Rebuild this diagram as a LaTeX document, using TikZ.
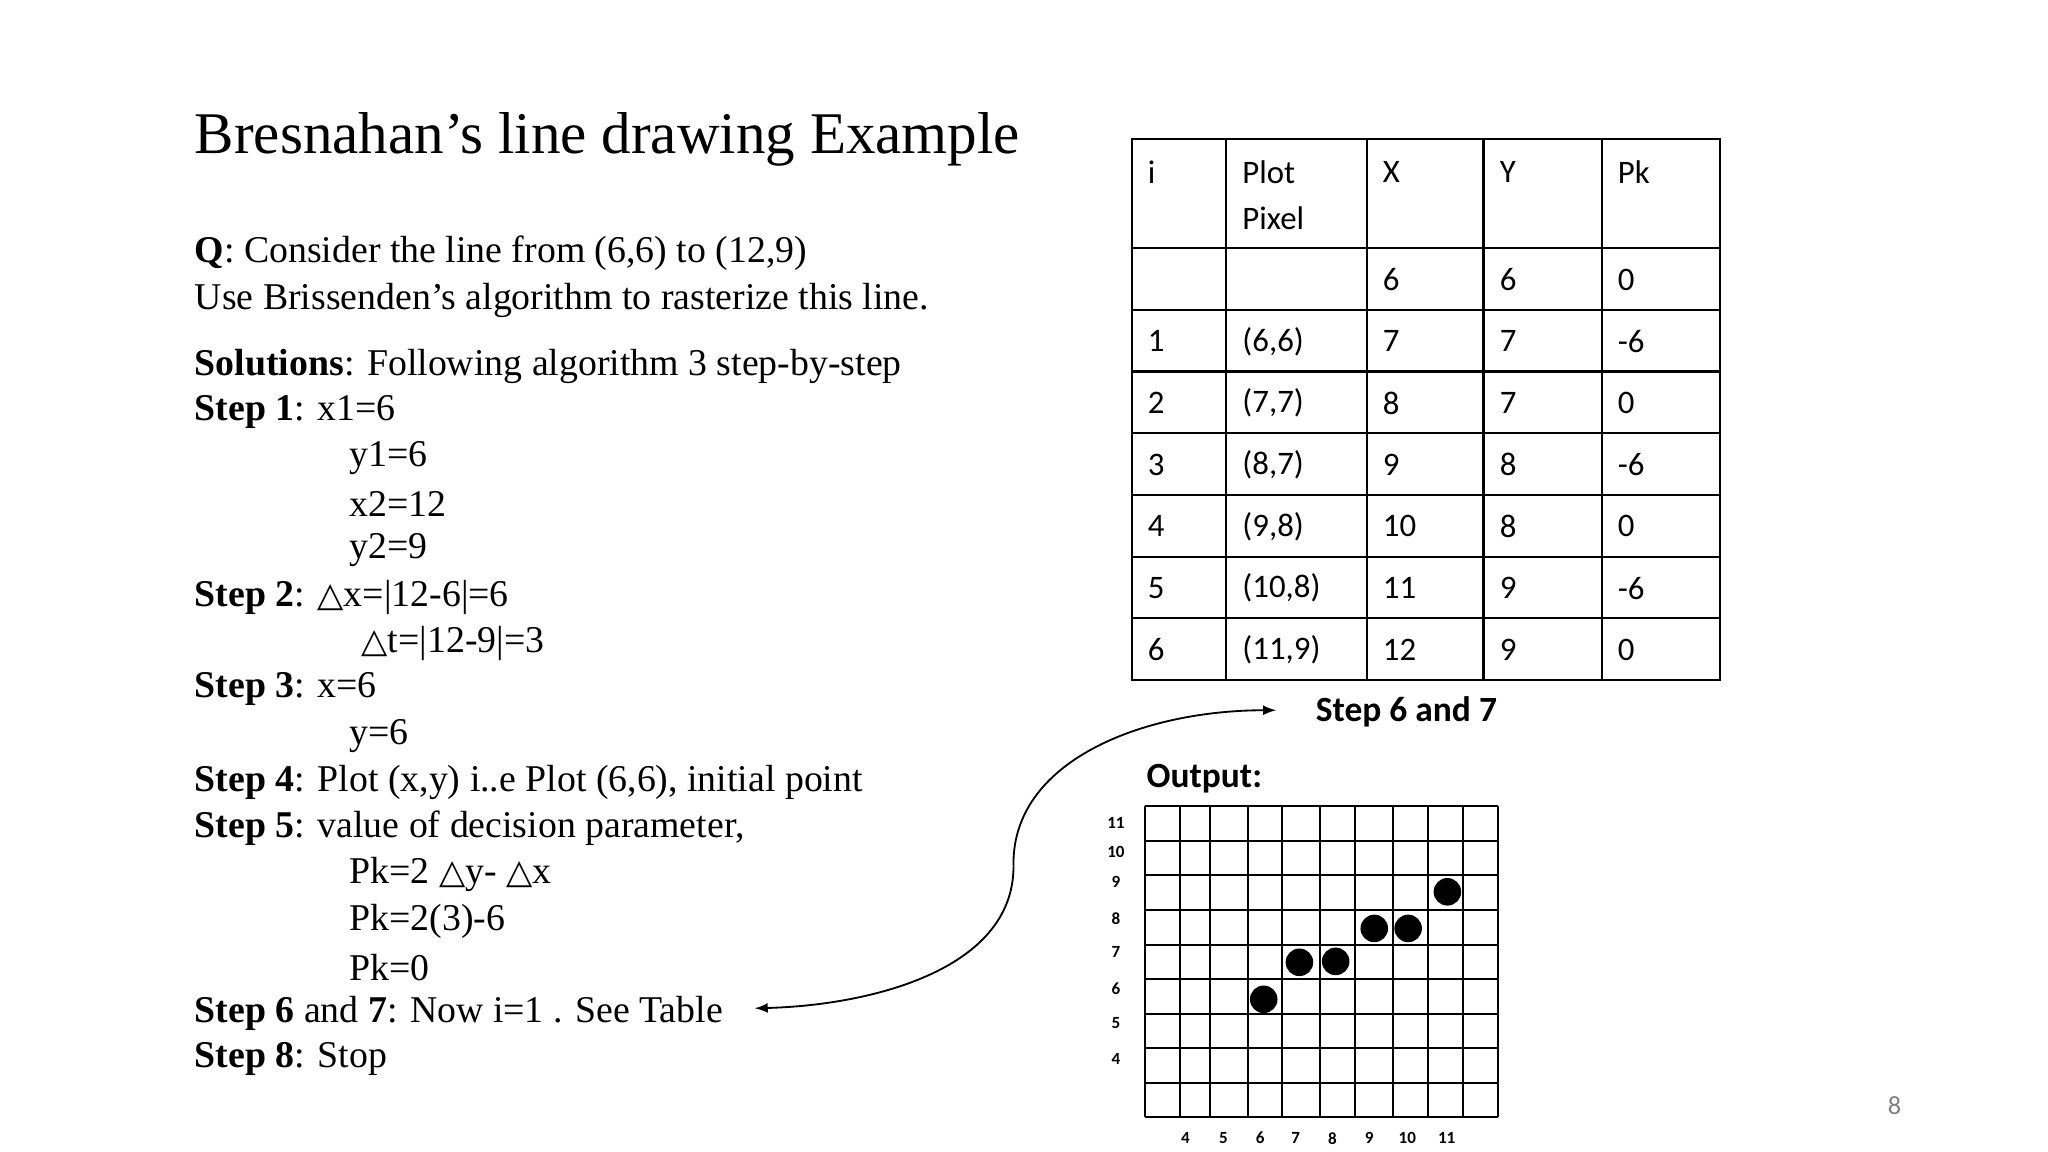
\documentclass[tikz,border=0pt]{standalone}
\usepackage{fontspec}
\setmainfont{Liberation Serif}
\newfontfamily\carl{Carlito}
\newfontfamily\djs{DejaVu Serif}
\newcommand{\tri}{{\djs\fontsize{13}{13}\selectfont △}}
\newcommand{\apos}{\char"0027\relax}
\begin{document}
\begin{tikzpicture}[x=0.5pt,y=-0.5pt,
  body/.style={anchor=west,inner sep=0,font=\fontsize{14.4}{16}\selectfont},
  cell/.style={anchor=west,inner sep=0,font=\carl\fontsize{12.5}{18}\selectfont},
  lab/.style={inner sep=0,font=\carl\bfseries\fontsize{6.5}{7}\selectfont},
  dot/.style={fill=black,circle,inner sep=0,minimum size=10.5pt}]
\useasboundingbox (0,0) rectangle (1560,877.5);
\node[anchor=west,inner sep=0,font=\fontsize{22.5}{24}\selectfont] (title) at (148,106) {Bresnahan\apos s line drawing Example};
\node[body] (q) at (148,193) {\textbf{Q}: Consider the line from (6,6) to (12,9)};
\node[body] (u) at (148,229) {Use Brissenden\apos s algorithm to rasterize this line.};
\node[body] (s) at (148,279) {\textbf{Solutions}: Following algorithm 3 step-by-step};
\node[body] (s1) at (148,314) {\textbf{Step 1}: x1=6};
\node[body] (a1) at (266,349) {y1=6};
\node[body] (a2) at (266,384) {x2=12};
\node[body] (a3) at (266,419) {y2=9};
\node[body] (s2) at (148,455) {\textbf{Step 2}: \tri x=|12-6|=6};
\node[body] (a4) at (275,490) {\tri t=|12-9|=3};
\node[body] (s3) at (148,525) {\textbf{Step 3}: x=6};
\node[body] (a5) at (266,561) {y=6};
\node[body] (s4) at (148,596) {\textbf{Step 4}: Plot (x,y) i..e Plot (6,6), initial point};
\node[body] (s5) at (148,631) {\textbf{Step 5}: value of decision parameter,};
\node[body] (a6) at (266,666) {Pk=2 \tri y- \tri x};
\node[body] (a7) at (266,702) {Pk=2(3)-6};
\node[body] (a8) at (266,737) {Pk=0};
\node[body] (s6) at (148,772) {\textbf{Step 6} and \textbf{7}: Now i=1 . See Table};
\node[body] (s8) at (148,807) {\textbf{Step 8}: Stop};
% table
\draw[line width=0.8pt] (862,106) rectangle (1310,518);
\foreach \x in {934,1041,1130,1220} \draw[line width=0.8pt] (\x,106) -- (\x,518);
\foreach \y in {189,236,283,330,377,424,471} \draw[line width=0.8pt] (862,\y) -- (1310,\y);
\node[cell] (h1) at (874,131) {i};
\node[cell] (h2) at (946,131) {Plot};
\node[cell] (h2b) at (946,166) {Pixel};
\node[cell] (h3) at (1053,131) {X};
\node[cell] (h4) at (1142,131) {Y};
\node[cell] (h5) at (1232,131) {Pk};
\node[cell] at (1053,213) {6};
\node[cell] at (1142,213) {6};
\node[cell] at (1232,213) {0};
\foreach \i/\p/\xx/\yy/\pk [count=\r] in {1/{(6,6)}/7/7/-6,2/{(7,7)}/8/7/0,3/{(8,7)}/9/8/-6,4/{(9,8)}/10/8/0,5/{(10,8)}/11/9/-6,6/{(11,9)}/12/9/0}{
  \pgfmathsetmacro{\yc}{213+47*\r}
  \node[cell] at (874,\yc) {\i};
  \node[cell] at (946,\yc) {\p};
  \node[cell] at (1053,\yc) {\xx};
  \node[cell] at (1142,\yc) {\yy};
  \node[cell] at (1232,\yc) {\pk};
}
\node[anchor=west,inner sep=0,font=\carl\bfseries\fontsize{13.5}{16}\selectfont] (st) at (1002,542) {Step 6 and 7};
\node[anchor=west,inner sep=0,font=\carl\bfseries\fontsize{13.5}{16}\selectfont] (out) at (873,593) {Output:};
% grid
\foreach \x in {872,898.7,921.8,950.6,976.4,1005.4,1032.1,1061.4,1088.0,1114.1,1141} \draw[line width=0.8pt] (\x,614) -- (\x,851);
\foreach \y in {614,640.6,666.5,693.2,719.6,745.7,772.3,798.4,824.7,851} \draw[line width=0.8pt] (872,\y) -- (1141,\y);
\foreach \t/\y in {11/627,10/649,9/672,8/700,7/725,6/753,5/779,4/807} \node[lab] at (850,\y) {\t};
\foreach \t/\x in {4/903,5/932,6/960,7/987,8/1015,9/1043,10/1072,11/1102} \node[lab] at (\x,867) {\t};
\node[dot] (d1) at (962.6,761.2) {};
\node[dot] (d2) at (989.8,733) {};
\node[dot] (d3) at (1017.4,732.3) {};
\node[dot] (d4) at (1046.8,707.2) {};
\node[dot] (d5) at (1072.6,707.2) {};
\node[dot] (d6) at (1102.5,679.3) {};
% arrow
\coordinate (m) at (772,660);
\coordinate (e1) at (972,541);
\coordinate (e2) at (575,768);
\draw[-latex,line width=0.7pt] (m) .. controls (770,580) and (870,541) .. (e1);
\draw[-latex,line width=0.7pt] (m) .. controls (772,740) and (660,766) .. (e2);
\node[inner sep=0,font=\carl\fontsize{10}{12}\selectfont,text=gray] (pg) at (1443,842) {8};
\end{tikzpicture}
\end{document}
